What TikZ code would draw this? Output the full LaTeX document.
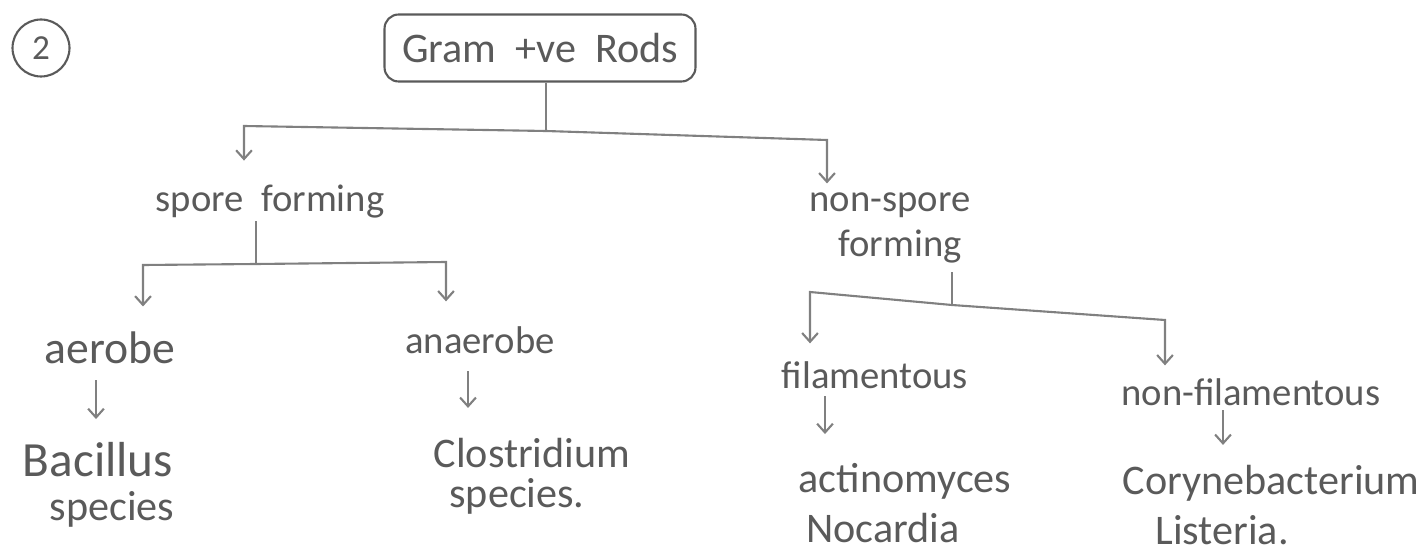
\documentclass[tikz,border=0pt]{standalone}
\usepackage{fontspec}
\setmainfont{Carlito}
\usetikzlibrary{arrows,arrows.meta,positioning}
\definecolor{ink}{HTML}{5A5A5A}
\definecolor{pen}{HTML}{808080}

\begin{document}
\begin{tikzpicture}[x=0.02cm,y=-0.02cm,>={Straight Barb[length=5pt,width=9pt]},line width=1.2pt]
        \tikzstyle{every node}=[text=ink,inner sep=1pt]
        \tikzstyle{groupname}=[font=\fontsize{22}{22}\selectfont,anchor=base]
        \tikzstyle{taxon}=[font=\fontsize{24}{24}\selectfont,anchor=base]
        \tikzstyle{branch}=[draw=pen]
        \tikzstyle{arr}=[draw=pen,->]

        \useasboundingbox (0,0) rectangle (1423,557);

        \node[draw=ink,circle,minimum size=1.14cm,font=\fontsize{20}{20}\selectfont] (num) at (41,48) {2};
        \node[draw=ink,rounded corners=8pt,minimum width=6.22cm,minimum height=1.34cm,
              font=\fontsize{24}{24}\selectfont] (root) at (540,48) {Gram\ \ +ve\ \ Rods};

        \node[groupname] (spore)     at (270,212) {spore\ \ forming};
        \node[groupname] (nonspore)  at (890,212) {non-spore};
        \node[groupname] (nonsporeb) at (900,256) {forming};

        \node[groupname,font=\fontsize{26}{26}\selectfont] (aer) at (110,363) {aerobe};
        \node[groupname] (ana)    at (480,353)  {anaerobe};
        \node[groupname] (fil)    at (875,388)  {filamentous};
        \node[groupname] (nonfil) at (1251,405) {non-filamentous};

        \node[taxon,font=\fontsize{28}{28}\selectfont] (bac) at (98,476) {Bacillus};
        \node[taxon] (bacsp) at (112,520)  {species};
        \node[taxon] (clo)   at (532,467)  {Clostridium};
        \node[taxon] (closp) at (517,507)  {species.};
        \node[taxon] (act)   at (905,492)  {actinomyces};
        \node[taxon] (noc)   at (883,542)  {Nocardia};
        \node[taxon] (cor)   at (1271,494) {Corynebacterium};
        \node[taxon] (lis)   at (1222,544) {Listeria.};

        % first split
        \coordinate (j0)  at (546,131);
        \coordinate (b0l) at (244,126);
        \coordinate (b0r) at (827,140);
        \draw[branch] (root.south -| j0) -- (j0);
        \draw[arr,shorten >=0.44cm] (j0) -- (b0l) -- (b0l |- spore.north);
        \draw[arr,shorten >=0.14cm] (j0) -- (b0r) -- (b0r |- nonspore.north);

        % spore forming
        \coordinate (j1)  at (256,264);
        \coordinate (b1l) at (143,265);
        \coordinate (b1r) at (446,262);
        \draw[branch] (spore.south -| j1) -- (j1);
        \draw[arr,shorten >=0.44cm] (j1) -- (b1l) -- (b1l |- aer.north);
        \draw[arr,shorten >=0.44cm] (j1) -- (b1r) -- (b1r |- ana.north);

        % non-spore forming
        \coordinate (j2)  at (952,305);
        \coordinate (b2l) at (810,292);
        \coordinate (b2r) at (1165,320);
        \draw[branch,shorten <=0.14cm] (nonsporeb.south -| j2) -- (j2);
        \draw[arr,shorten >=0.3cm] (j2) -- (b2l) -- (b2l |- fil.north);
        \draw[arr,shorten >=0.2cm] (j2) -- (b2r) -- (b2r |- nonfil.north);

        % down to the species
        \draw[arr,shorten <=0.28cm,shorten >=0.4cm]  (aer.south -| 96,0)    -- (96,0 |- bac.north);
        \draw[arr,shorten <=0.3cm,shorten >=0.54cm]  (ana.south -| 468,0)   -- (468,0 |- clo.north);
        \draw[arr,shorten <=0.1cm,shorten >=0.52cm]  (fil.south -| 825,0)   -- (825,0 |- act.north);
        \draw[arr,shorten <=0.04cm,shorten >=0.34cm] (nonfil.south -| 1223,0) -- (1223,0 |- cor.north);
    \end{tikzpicture}
\end{document}
